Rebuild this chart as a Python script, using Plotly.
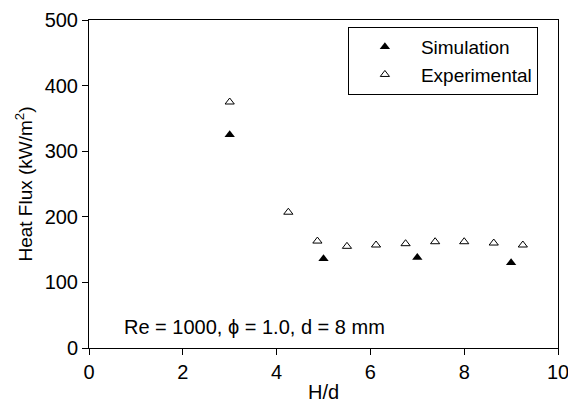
import plotly.graph_objects as go

sim_x = [3.0, 5.0, 7.0, 9.0]
sim_y = [325, 136, 138, 130]
exp_x = [3.0, 4.25, 4.87, 5.5, 6.12, 6.75, 7.38, 8.0, 8.63, 9.25]
exp_y = [375, 207, 163, 155, 157, 159, 162, 162, 160, 157]

font = "Liberation Sans, Arial, sans-serif"

fig = go.Figure()
fig.add_trace(go.Scatter(x=sim_x, y=sim_y, mode="markers", name="Simulation",
                         marker=dict(symbol="triangle-up", size=9, color="black")))
fig.add_trace(go.Scatter(x=exp_x, y=exp_y, mode="markers", name="Experimental",
                         marker=dict(symbol="triangle-up-open", size=8, color="black",
                                     line=dict(width=1, color="black"))))

fig.add_annotation(x=0.07, y=0.064, xref="paper", yref="paper", xanchor="left", yanchor="middle",
                   text="Re = 1000, ϕ = 1.0, d = 8 mm", showarrow=False,
                   font=dict(family=font, size=20, color="black"))

# page body has an 8px margin: figure sized/offset to compensate
fig.update_layout(
    width=568, height=396,
    margin=dict(l=81, r=18, t=12, b=56),
    plot_bgcolor="white", paper_bgcolor="white",
    font=dict(family=font, size=20, color="black"),
    showlegend=True,
    legend=dict(x=0.552, y=0.979, xanchor="left", yanchor="top",
                bordercolor="black", borderwidth=1, bgcolor="white",
                font=dict(family=font, size=19), itemwidth=62,
                tracegroupgap=0),
    xaxis=dict(range=[0, 10], dtick=2, showgrid=False, zeroline=False,
               showline=True, linecolor="black", linewidth=1, mirror=True,
               ticks="outside", ticklen=6, tickcolor="black", automargin=False,
               title=dict(text="H/d", standoff=2, font=dict(size=20))),
    yaxis=dict(range=[0, 500], dtick=100, showgrid=False, zeroline=False,
               showline=True, linecolor="black", linewidth=1, mirror=True,
               ticks="outside", ticklen=6, tickcolor="black", automargin=False,
               title=dict(text="Heat Flux (kW/m<sup>2</sup>)", standoff=6, font=dict(size=19))),
)

fig.write_html("out.html")
